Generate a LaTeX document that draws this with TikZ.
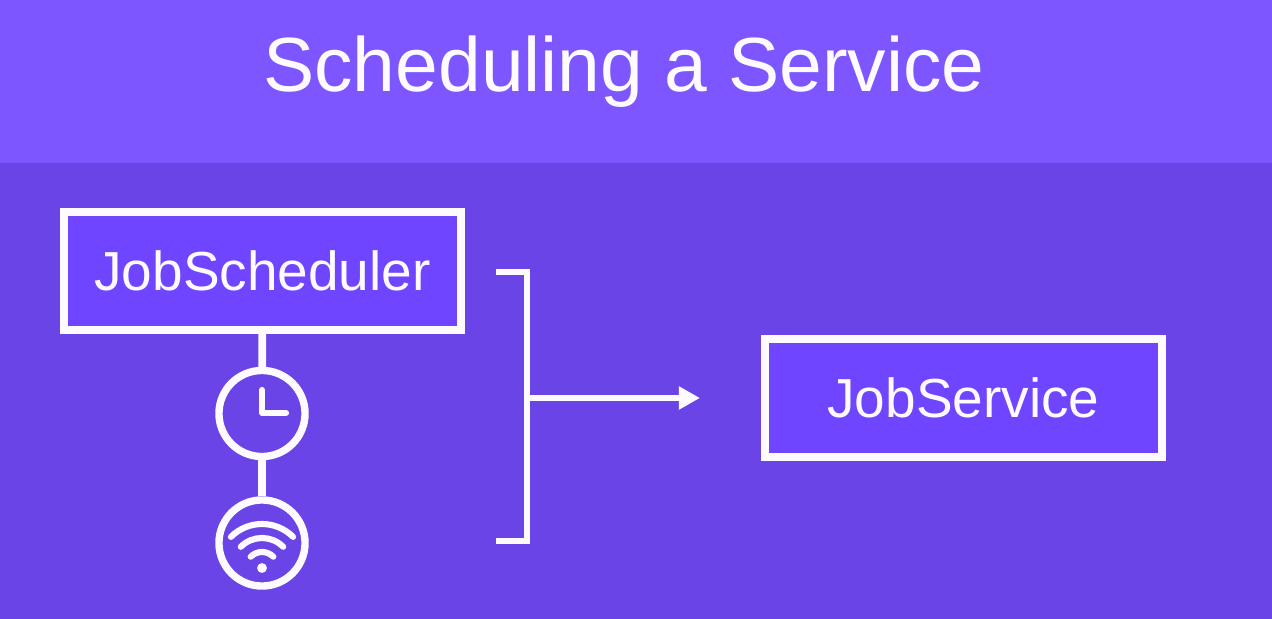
\documentclass[tikz,border=0pt]{standalone}
\usepackage{fontspec}
\setmainfont{Liberation Sans}
\usetikzlibrary{arrows.meta}
\definecolor{headcol}{HTML}{7E56FF}
\definecolor{bodycol}{HTML}{6B44E8}
\definecolor{boxcol}{HTML}{7045FF}
\definecolor{inkcol}{HTML}{FDFBFF}
\begin{document}
\begin{tikzpicture}[x=0.02cm, y=-0.02cm,
	wire/.style={line width=3.4pt, draw=inkcol},
	stem/.style={line width=4.4pt, draw=inkcol},
	icon/.style={line width=3.5pt, draw=inkcol, line cap=round, line join=round},
	boxnode/.style={rectangle, draw=inkcol, fill=boxcol, text=inkcol, line width=4.4pt, minimum width=226pt, minimum height=67pt, font=\fontsize{31.3}{34}\selectfont},
	ringnode/.style={circle, draw=inkcol, fill=bodycol, line width=4.2pt, minimum size=49pt, inner sep=0pt}]
	\useasboundingbox (0,0) rectangle (1272,619);
	\fill[bodycol] (0,0) rectangle (1272,619);
	\fill[headcol] (0,0) rectangle (1272,163);
	\node[text=inkcol, font=\fontsize{43.7}{48}\selectfont] (title) at (624,72) {Scheduling a Service};
	\node[boxnode] (sched) at (262.5,271) {JobScheduler};
	\node[boxnode] (serv) at (963.5,398) {JobService};
	\node[ringnode] (clock) at (262,413.5) {};
	\node[ringnode] (wifi) at (262,543) {};
	\node[circle, fill=inkcol, inner sep=0pt, minimum size=5.6pt] (dot) at (262,568) {};
	\coordinate (bt) at (496,272);
	\coordinate (bb) at (496,541);
	\coordinate (tr) at (527,272);
	\coordinate (br) at (527,541);
	\coordinate (fork) at (527,398);
	\coordinate (tip) at (700,398);
	\draw[stem] (sched)--(clock);
	\draw[stem] (clock)--(wifi);
	\draw[wire] (bt)--(tr)--(br)--(bb);
	\draw[wire, -{Triangle[length=12pt, width=12.5pt]}, fill=inkcol] (fork)--(tip);
	% clock hands
	\draw[icon] (262,390)--(262,413)--(286,413);
	% wifi waves
	\foreach \r in {16,30,44}
		\draw[icon] (dot) ++(225:\r) arc[start angle=225, end angle=315, radius=\r];
\end{tikzpicture}
\end{document}
